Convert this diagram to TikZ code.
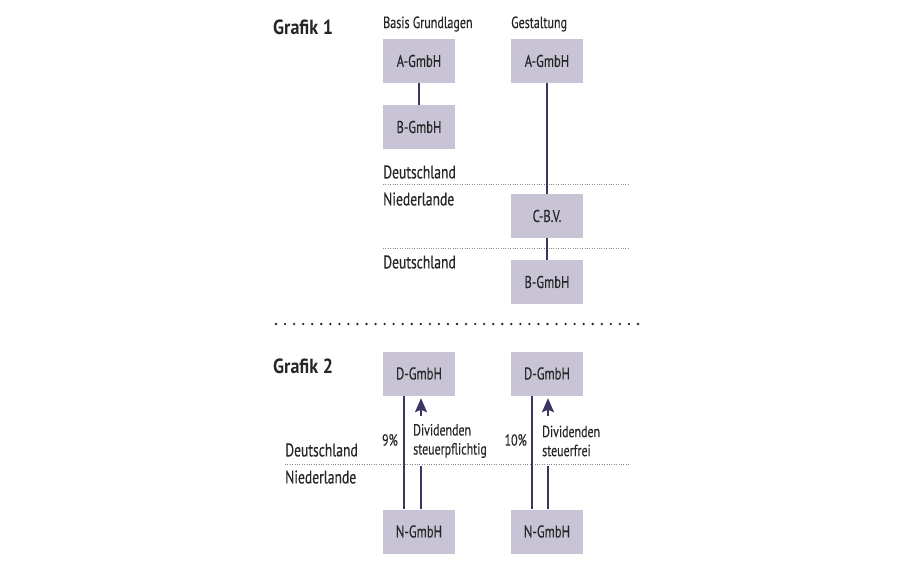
\documentclass[tikz,border=0pt]{standalone}
\usepackage{fontspec}
\setmainfont{PT Sans}[FakeStretch=0.74, FakeBold=0.3]
\newfontfamily\titlefont{PT Sans Bold}[FakeStretch=0.88]
\usetikzlibrary{arrows.meta}
\definecolor{boxfill}{HTML}{C9C3D6}
\definecolor{linec}{HTML}{3A3562}
\definecolor{txt}{HTML}{262626}
\definecolor{dotc}{HTML}{8A8A8A}
\begin{document}
\begin{tikzpicture}[x=1pt,y=-1pt,
  company/.style={fill=boxfill, minimum width=72pt, minimum height=44pt, inner sep=0pt,
    font=\fontsize{17}{20}\selectfont, text=txt},
  lbl/.style={font=\fontsize{18.4}{22}\selectfont, text=txt, inner sep=0pt, anchor=west},
  head/.style={font=\fontsize{16.3}{19}\selectfont, text=txt, inner sep=0pt, anchor=west},
  title/.style={font=\titlefont\fontsize{20.5}{24}\selectfont, text=txt, inner sep=0pt, anchor=west},
  divlbl/.style={font=\fontsize{16.1}{19}\selectfont, text=txt, inner sep=0pt, anchor=west,
    align=left, minimum height=50pt},
  link/.style={draw=linec, line width=2pt},
  flow/.style={draw=linec, line width=2pt, -{Stealth[length=14pt,width=12pt,inset=2.5pt]}, shorten >=2.5pt},
  border/.style={draw=dotc, line width=0.8pt, dash pattern=on 1pt off 1.4pt},
  separator/.style={draw=txt, line width=2.6pt, line cap=round, dash pattern=on 0pt off 9.05pt}
]
\useasboundingbox (0,0) rectangle (914,571);

% Grafik 1
\node[title] (g1) at (273,27) {Grafik 1};
\node[head] (basis) at (383,24) {Basis Grundlagen};
\node[head] (gest) at (511,24) {Gestaltung};

\node[company] (A1) at (419,61) {A-GmbH};
\node[company] (B1) at (419,127) {B-GmbH};
\node[company] (A2) at (547,61) {A-GmbH};
\node[company] (C2) at (547,216) {C-B.V.};
\node[company] (B2) at (547,282) {B-GmbH};

\coordinate (d1a) at (383,184);
\coordinate (d1b) at (630,184);
\coordinate (d2a) at (383,248);
\coordinate (d2b) at (630,248);
\draw[border] (d1a) -- (d1b);
\draw[border] (d2a) -- (d2b);

\node[lbl] (de1) at (383,172) {Deutschland};
\node[lbl] (nl1) at (383,199) {Niederlande};
\node[lbl] (de2) at (383,262) {Deutschland};

\draw[link] (A1) -- (B1);
\draw[link] (A2) -- (C2);
\draw[link] (C2) -- (B2);

% separator
\coordinate (sepa) at (276,324);
\coordinate (sepb) at (640,324);
\draw[separator] (sepa) -- (sepb);

% Grafik 2
\node[title] (g2) at (273,366) {Grafik 2};

\node[company] (D1) at (419,373.5) {D-GmbH};
\node[company] (N1) at (419,531.5) {N-GmbH};
\node[company] (D2) at (547,373.5) {D-GmbH};
\node[company] (N2) at (547,531.5) {N-GmbH};

\coordinate (d3a) at (285,464);
\coordinate (d3b) at (630,464);
\draw[border] (d3a) -- (d3b);

\node[lbl] (de3) at (285,450) {Deutschland};
\node[lbl] (nl3) at (285,477) {Niederlande};

\node[lbl, anchor=east, font=\fontsize{16.1}{19}\selectfont] (p1) at (398,440) {9\%};
\node[lbl, anchor=east, font=\fontsize{16.1}{19}\selectfont] (p2) at (527,440) {10\%};

\node[divlbl] (div1) at (413,441) {Dividenden\\steuerpflichtig};
\node[divlbl] (div2) at (542,441) {Dividenden\\steuerfrei};

\draw[link] ([xshift=-15pt]D1.south) -- ([xshift=-15pt]N1.north);
\draw[link] ([xshift=-15pt]D2.south) -- ([xshift=-15pt]N2.north);

\draw[link] ([xshift=2pt]N1.north) -- ([xshift=2pt]N1.north |- div1.south);
\draw[flow] ([xshift=2pt]N1.north |- div1.north) -- ([xshift=2pt]D1.south);
\draw[link] ([xshift=1pt]N2.north) -- ([xshift=1pt]N2.north |- div2.south);
\draw[flow] ([xshift=1pt]N2.north |- div2.north) -- ([xshift=1pt]D2.south);
\end{tikzpicture}
\end{document}
